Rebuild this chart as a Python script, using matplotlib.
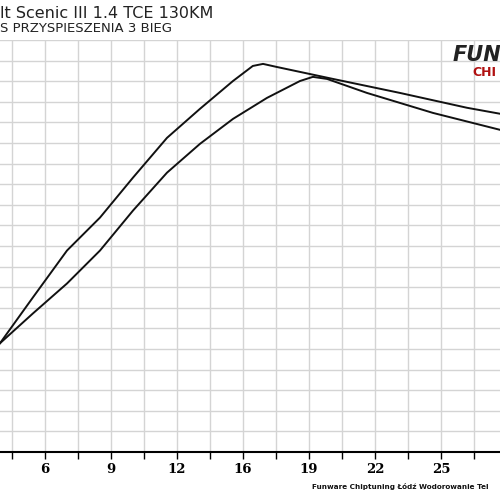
import matplotlib
matplotlib.use("Agg")
import matplotlib.pyplot as plt

tick_pos = list(range(0, 15))
tick_labels = ["", "6", "", "9", "", "12", "", "16", "", "19", "", "22", "", "25", ""]

ax_x = [-0.36, 0.64, 1.67, 2.67, 3.67, 4.70, 5.70, 6.70, 7.30, 7.61, 8.03, 9.73, 11.76, 13.79, 14.79]
ax_y = [5.28, 7.51, 9.78, 11.38, 13.32, 15.25, 16.66, 18.01, 18.74, 18.84, 18.69, 18.11, 17.43, 16.71, 16.42]
bx_x = [-0.36, 0.64, 1.67, 2.67, 3.67, 4.70, 5.70, 6.70, 7.73, 8.73, 9.12, 9.55, 10.76, 12.76, 14.79]
bx_y = [5.28, 6.73, 8.18, 9.78, 11.72, 13.56, 14.96, 16.17, 17.19, 18.01, 18.21, 18.11, 17.43, 16.46, 15.64]

fig = plt.figure(figsize=(5, 5), dpi=100)
ax = fig.add_axes([0, 0.096, 1, 0.824])
ax.set_xlim(-0.36, 14.79)
ax.set_ylim(0, 20)
ax.set_xticks(tick_pos)
ax.set_xticklabels(tick_labels, fontsize=9.5, fontweight="bold", family="DejaVu Serif")
ax.set_yticks(range(0, 21))
ax.tick_params(axis="y", left=False, labelleft=False)
ax.tick_params(axis="x", direction="out", length=5, width=1, pad=3)
ax.grid(True, color="#d4d4d4", lw=1)
for s in ["top", "right", "left"]:
    ax.spines[s].set_visible(False)
ax.spines["bottom"].set_linewidth(1.5)
ax.plot(ax_x, ax_y, color="#111111", lw=1.4, solid_joinstyle="round")
ax.plot(bx_x, bx_y, color="#111111", lw=1.4, solid_joinstyle="round")

fig.text(0.0, 0.972, "lt Scenic III 1.4 TCE 130KM", fontsize=11.5, va="center", ha="left", color="#222222")
fig.text(0.0, 0.942, "s przyspieszenia 3 bieg".upper(), fontsize=9.5, va="center", ha="left", color="#222222")
fig.text(0.905, 0.89, "FUN", fontsize=15, fontweight="bold", style="italic", va="center", ha="left", color="#222222")
fig.text(0.945, 0.855, "CHI", fontsize=9, fontweight="bold", va="center", ha="left", color="#b01010")
fig.text(0.624, 0.028, "Funware Chiptuning Łódź Wodorowanie Tel", fontsize=5.2, fontweight="bold", va="center", ha="left", color="#111111")
fig.savefig("out.png", dpi=100)
